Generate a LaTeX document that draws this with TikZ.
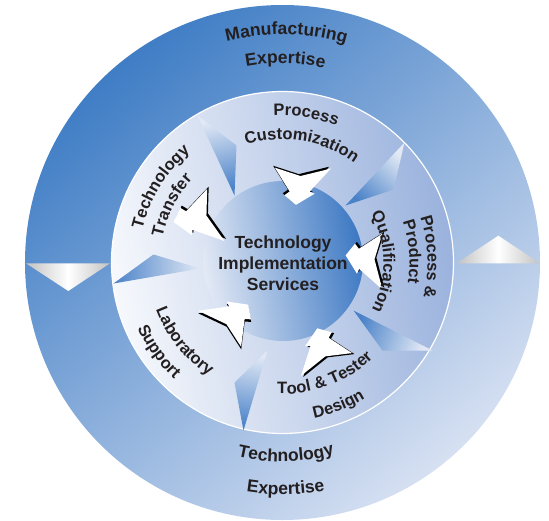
\documentclass[tikz,border=0pt]{standalone}
\usepackage{fontspec}
\setmainfont{Liberation Sans}
\usetikzlibrary{decorations.text}
\definecolor{ringdark}{HTML}{3F7DC5}
\definecolor{ringlight}{HTML}{D6E0F2}
\definecolor{midlight}{HTML}{F6F8FC}
\definecolor{midright}{HTML}{9AB2DD}
\definecolor{innerlight}{HTML}{E3E9F5}
\definecolor{innerdark}{HTML}{3C78C3}
\definecolor{wedgedark}{HTML}{4A82C8}
\definecolor{wedgelight}{HTML}{E2E9F5}
\definecolor{silver}{HTML}{C2C2C2}
\definecolor{txt}{HTML}{231F20}
\newcommand{\cwtext}[4]{%
  \path[decorate, decoration={text along path, text align=center,
    text={|\fontsize{#3}{#3}\selectfont\bfseries\color{txt}|#4}}]
    ({#2+70}:#1) arc[start angle={#2+70}, end angle={#2-70}, radius=#1];}
\newcommand{\ccwtext}[4]{%
  \path[decorate, decoration={text along path, text align=center,
    text={|\fontsize{#3}{#3}\selectfont\bfseries\color{txt}|#4}}]
    ({#2-70}:#1) arc[start angle={#2-70}, end angle={#2+70}, radius=#1];}
\def\arrowpath{(-16,-26) -- (-9,0) -- (-18,30) -- (6,10) -- (8,15) -- (20,-3) -- (11,-15) -- (7,-10) -- cycle}
\tikzset{
  warrow/.pic={
    \fill[black, xshift=-1.8, yshift=-1.8] \arrowpath;
    \fill[white] \arrowpath;
  },
  wedge/.style={top color=wedgelight, bottom color=wedgedark, shading angle=#1},
  metal/.style={left color=silver, right color=silver, middle color=white},
  centertext/.style={align=center, text=txt, font=\fontsize{17.5}{21}\selectfont\bfseries}
}
\begin{document}
\begin{tikzpicture}[x=1pt,y=1pt]
\useasboundingbox (-282.5,-257.5) rectangle (266.5,262.5);
% outer ring
\shade[top color=ringdark, bottom color=ringlight, shading angle=40] (0,0) circle[radius=257.5];
% metallic triangles
\shade[metal] (-256.5,-0.8) -- (-172.5,-0.8) -- (-214.2,-28.5) -- cycle;
\shade[metal] (174.2,-0.8) -- (257.5,-0.8) -- (215.8,26.8) -- cycle;
% middle ring
\shade[left color=midlight, right color=midright, shading angle=100] (0,0) circle[radius=171];
\draw[white, line width=1.2] (0,0) circle[radius=171];
% wedges
\shade[wedge=15] (-85,147) -- (-46,117) -- (-48,67) -- cycle;
\shade[wedge=-43] (122,120) -- (111,73) -- (63,57) -- cycle;
\shade[wedge=250] (71,-48) -- (100,-88) -- (150,-88) -- cycle;
\shade[wedge=-10] (-15,-88) -- (-48,-120) -- (-39,-168) -- cycle;
\shade[wedge=270] (-169,-21) -- (-129,8) -- (-82,-6) -- cycle;
% inner circle
\shade[left color=innerlight, right color=innerdark, shading angle=100] (0.5,1.5) circle[radius=80];
% arrows
\pic[rotate=-93] at (17.5,77.5) {warrow};
\pic[rotate=178] at (83,3.5) {warrow};
\pic[rotate=112] at (39.5,-85.5) {warrow};
\pic[rotate=48] at (-50,-55) {warrow};
\pic[rotate=196, xscale=1.15, yscale=0.98] at (-86,44) {warrow};
% centre text
\node[centertext] (tis) at (0.5,-1) {Technology\\Implementation\\Services};
% outer ring texts
\cwtext{228}{89}{17.5}{Manufacturing}
\cwtext{199}{89.2}{17.5}{Expertise}
\ccwtext{199}{-89}{17.5}{Technology}
\ccwtext{232}{-89.2}{17.5}{Expertise}
% middle ring texts
\cwtext{146.7}{80.9}{16.5}{Process}
\cwtext{123}{80.7}{16.5}{Customization}
\cwtext{144}{148.2}{16.5}{Technology}
\cwtext{122.6}{152.6}{16.5}{Transfer}
\cwtext{145}{2.2}{16.5}{Process {\&}}
\cwtext{127}{4.7}{16.5}{Product}
\cwtext{101}{0.4}{16.5}{Qualification}
\ccwtext{131.5}{-69.4}{16.5}{Tool {\&} Tester}
\ccwtext{159}{-68.6}{16.5}{Design}
\ccwtext{135}{-141.3}{16.5}{Laboratory}
\ccwtext{159}{-144.3}{16.5}{Support}
\end{tikzpicture}
\end{document}
